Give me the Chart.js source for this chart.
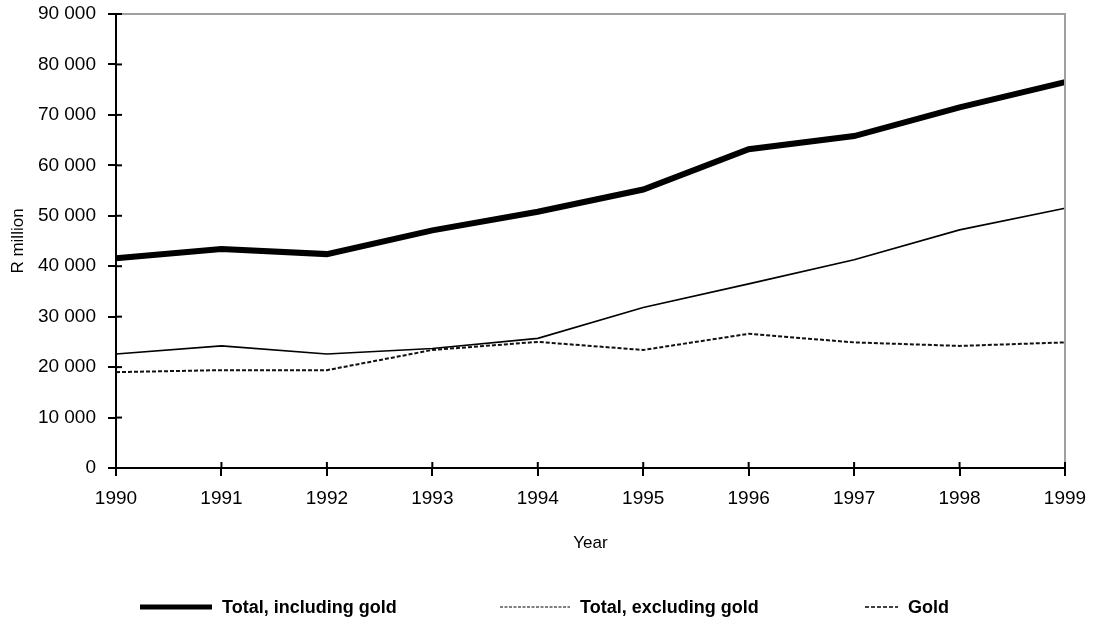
<!DOCTYPE html>
<html>
<head>
<meta charset="utf-8">
<script src="https://cdn.jsdelivr.net/npm/chart.js@4/dist/chart.umd.min.js"></script>
<style>
  html, body { margin:0; padding:0; background:#fff; }
  #wrap { position:relative; width:1094px; height:624px; }
  .lg { position:absolute; top:596px; height:22px; display:flex; align-items:center;
        font:bold 18px 'Liberation Sans', Arial, sans-serif; color:#000; white-space:nowrap; }
  .lg svg { display:block; margin-right:10px; }
</style>
</head>
<body>
<div id="wrap">
  <canvas id="chart" width="1094" height="624"></canvas>
  <div class="lg" style="left:140px"><svg width="72" height="8"><line x1="0" y1="4" x2="72" y2="4" stroke="#000" stroke-width="5"/></svg><span id="lg0"></span></div>
  <div class="lg" style="left:500px"><svg width="70" height="8"><line x1="0" y1="4" x2="70" y2="4" stroke="#000" stroke-width="1" stroke-dasharray="3,1.5"/></svg><span id="lg1"></span></div>
  <div class="lg" style="left:865px"><svg width="33" height="8"><line x1="0" y1="4" x2="33" y2="4" stroke="#000" stroke-width="1.5" stroke-dasharray="4,2"/></svg><span id="lg2"></span></div>
</div>
<script>
/* ── data ── */
var YEARS = ['1990', '1991', '1992', '1993', '1994', '1995', '1996', '1997', '1998', '1999'];
var TOTAL_INCL_GOLD = [41600, 43400, 42400, 47100, 50800, 55200, 63200, 65800, 71500, 76500];
var TOTAL_EXCL_GOLD = [22600, 24200, 22600, 23700, 25700, 31800, 36500, 41300, 47200, 51500];
var GOLD            = [19000, 19400, 19400, 23400, 25000, 23400, 26600, 24900, 24200, 24900];
var SERIES_LABELS = ['Total, including gold', 'Total, excluding gold', 'Gold'];
var Y_MIN = 0, Y_MAX = 90000, Y_STEP = 10000;

var FONT = "'Liberation Sans', Arial, sans-serif";

SERIES_LABELS.forEach(function (t, i) { document.getElementById('lg' + i).textContent = t; });

var fmt = function (v) { return String(v).replace(/\B(?=(\d{3})+(?!\d))/g, ' '); };

/* ── frame: grey top/right border + ticks crossing the axes ── */
var framePlugin = {
  id: 'frame',
  afterDraw: function (chart) {
    var c = chart.ctx, a = chart.chartArea;
    var xs = chart.scales.x, ys = chart.scales.y;
    c.save();
    c.strokeStyle = '#a0a0a0';
    c.lineWidth = 2;
    c.beginPath();
    c.moveTo(a.left, a.top); c.lineTo(a.right, a.top); c.lineTo(a.right, a.bottom);
    c.stroke();
    c.strokeStyle = '#000';
    c.lineWidth = 2;
    ys.ticks.forEach(function (t, i) {
      var y = ys.getPixelForTick(i);
      c.beginPath(); c.moveTo(a.left, y); c.lineTo(a.left + 6, y); c.stroke();
    });
    xs.ticks.forEach(function (t, i) {
      var x = xs.getPixelForTick(i);
      c.beginPath(); c.moveTo(x, a.bottom); c.lineTo(x, a.bottom - 6); c.stroke();
    });
    c.restore();
  }
};

new Chart(document.getElementById('chart'), {
  type: 'line',
  data: {
    labels: YEARS,
    datasets: [
      { label: SERIES_LABELS[1], data: TOTAL_EXCL_GOLD, borderColor: '#000', borderWidth: 1.6, pointRadius: 0, tension: 0 },
      { label: SERIES_LABELS[2], data: GOLD, borderColor: '#111', borderWidth: 2, borderDash: [4, 2], pointRadius: 0, tension: 0 },
      { label: SERIES_LABELS[0], data: TOTAL_INCL_GOLD, borderColor: '#000', borderWidth: 6, pointRadius: 0, tension: 0 }
    ]
  },
  plugins: [framePlugin],
  options: {
    responsive: false,
    animation: false,
    events: [],
    layout: { padding: { left: 0, top: 14, right: 29, bottom: 68 } },
    plugins: { legend: { display: false }, tooltip: { enabled: false } },
    scales: {
      x: {
        type: 'category',
        offset: false,
        grid: { drawOnChartArea: false, drawTicks: true, tickLength: 8, color: '#000', lineWidth: 2 },
        border: { color: '#000', width: 2 },
        ticks: { color: '#000', font: { family: FONT, size: 19 }, padding: 11, maxRotation: 0, autoSkip: false },
        title: { display: true, text: 'Year', color: '#000', font: { family: FONT, size: 17 }, padding: { top: 0, bottom: 2 } },
        afterFit: function (s) { s.height = 88; s.paddingLeft = 0; s.paddingRight = 0; }
      },
      y: {
        min: Y_MIN, max: Y_MAX,
        grid: { drawOnChartArea: false, drawTicks: true, tickLength: 8, color: '#000', lineWidth: 2 },
        border: { color: '#000', width: 2 },
        ticks: { stepSize: Y_STEP, color: '#000', font: { family: FONT, size: 19 }, padding: 12, callback: function (v) { return fmt(v); } },
        title: { display: true, text: 'R million', color: '#000', font: { family: FONT, size: 17 }, padding: { top: 8, bottom: 0 } },
        afterFit: function (s) { s.width = 116; s.paddingTop = 0; s.paddingBottom = 0; }
      }
    }
  }
});
</script>
</body>
</html>
